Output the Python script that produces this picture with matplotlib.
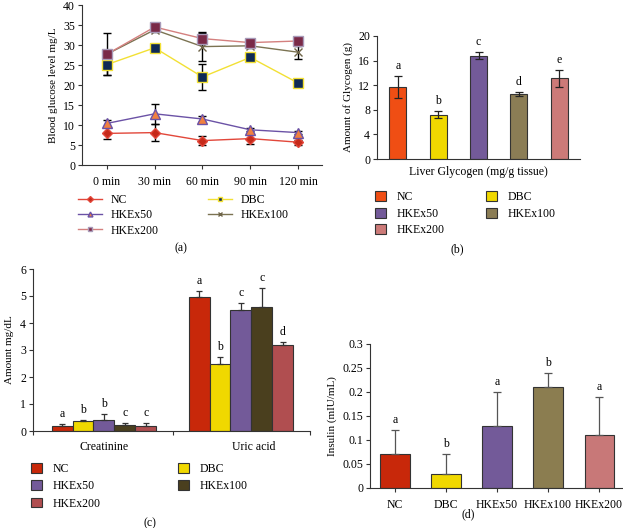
import matplotlib
matplotlib.use("Agg")
import matplotlib.pyplot as plt
import numpy as np
from matplotlib.lines import Line2D
from matplotlib.patches import Patch

W, H = 623, 528
plt.rcParams['font.family'] = ['Liberation Serif', 'DejaVu Serif']
plt.rcParams['font.size'] = 8
plt.rcParams['xtick.labelsize'] = 8.5
plt.rcParams['ytick.labelsize'] = 8.5

groups = ["NC", "DBC", "HKEx50", "HKEx100", "HKEx200"]

# (a) blood glucose
times = ["0 min", "30 min", "60 min", "90 min", "120 min"]
glu_nc = [7.9, 8.1, 6.1, 6.6, 5.7]
glu_nc_err = [1.5, 2.2, 1.1, 1.3, 0.6]
glu_dbc = [25.1, 29.3, 22.0, 26.9, 20.5]
glu_dbc_err = [2.5, 0.5, 3.3, 1.0, 0.3]
glu_50 = [10.4, 12.8, 11.5, 8.8, 8.1]
glu_50_err = [0.8, 2.5, 0.7, 0.4, 0.3]
glu_100 = [27.7, 33.8, 29.6, 29.8, 28.2]
glu_100_err = [5.2, 0.5, 3.6, 0.5, 1.6]
glu_200 = [27.7, 34.5, 31.6, 30.6, 31.0]
glu_200_err = [0.5, 0.5, 1.3, 0.5, 0.8]

# (b) liver glycogen
glyco = [11.7, 7.2, 16.8, 10.6, 13.1]
glyco_err = [1.8, 0.6, 0.6, 0.3, 1.4]
glyco_letters = ["a", "b", "c", "d", "e"]

# (c) creatinine / uric acid
renal_cats = ["Creatinine", "Uric acid"]
renal_nc = [0.20, 4.97]
renal_nc_err = [0.05, 0.20]
renal_dbc = [0.38, 2.50]
renal_dbc_err = [0.02, 0.23]
renal_50 = [0.42, 4.50]
renal_50_err = [0.22, 0.25]
renal_100 = [0.22, 4.60]
renal_100_err = [0.07, 0.70]
renal_200 = [0.20, 3.20]
renal_200_err = [0.08, 0.10]
renal_letters = [["a", "a"], ["b", "b"], ["b", "c"], ["c", "c"], ["c", "d"]]

# (d) insulin
insulin = [0.07, 0.03, 0.13, 0.21, 0.11]
insulin_err = [0.05, 0.04, 0.07, 0.03, 0.08]
insulin_letters = ["a", "b", "a", "b", "a"]

fig = plt.figure(figsize=(W / 100, H / 100), dpi=100)


def rect(l, r, t, b):
    return [l / W, 1 - b / H, (r - l) / W, (b - t) / H]


def fpos(x, y):
    return (x / W, 1 - y / H)


def style(ax):
    for s in ("top", "right"):
        ax.spines[s].set_visible(False)
    for s in ("left", "bottom"):
        ax.spines[s].set_linewidth(0.8)
        ax.spines[s].set_color("#333333")
    ax.tick_params(direction="out", length=3, width=0.8, color="#333333", pad=2)


# ---------- (a)
axa = fig.add_axes(rect(82, 322, 5, 165))
style(axa)
x = np.arange(len(times))
ekw = dict(ecolor="black", elinewidth=1.0, capsize=3, capthick=1.0)
axa.errorbar(x, glu_nc, yerr=glu_nc_err, color="#e2473a", lw=1.0, marker="D", ms=5,
             mfc="#c62a1a", mec="#e2473a", **ekw)
axa.errorbar(x, glu_50, yerr=glu_50_err, color="#6b52a6", lw=1.0, marker="^", ms=7,
             mfc="#f08040", mec="#6b52a6", **ekw)
axa.errorbar(x, glu_dbc, yerr=glu_dbc_err, color="#f2e034", lw=1.0, marker="s", ms=7,
             mfc="#0f2a55", mec="#f2e034", **ekw)
axa.errorbar(x, glu_100, yerr=glu_100_err, color="#7b7352", lw=1.0, marker="x", ms=6,
             mec="#6e6448", mew=1.0, **ekw)
axa.errorbar(x, glu_200, yerr=glu_200_err, color="#d4807f", lw=1.0, marker="s", ms=7,
             mfc="#7a2a48", mec="#a89ab8", **ekw)
axa.plot(x, glu_200, ls="none", marker="x", ms=4, mec="#e05060", mew=1.0)
axa.set_xlim(-0.52, 4.5)
axa.set_ylim(0, 40)
axa.set_yticks(np.arange(0, 41, 5))
axa.set_xticks(x)
axa.set_xticklabels(times)
axa.tick_params(axis="x", pad=5)
axa.set_ylabel("Blood glucose level mg/L", labelpad=4)

hA = [
    Line2D([], [], color="#e2473a", marker="D", ms=3, mfc="#c62a1a", mec="#e2473a", lw=1.0),
    Line2D([], [], color="#6b52a6", marker="^", ms=3.5, mfc="#f08040", mec="#6b52a6", lw=1.0),
    Line2D([], [], color="#d4807f", marker="s", ms=3.5, mfc="#7a2a48", mec="#a89ab8", lw=1.0),
    Line2D([], [], color="#f2e034", marker="s", ms=3.5, mfc="#0f2a55", mec="#f2e034", lw=1.0),
    Line2D([], [], color="#7b7352", marker="x", ms=3.5, mec="#6e6448", lw=1.0),
]
legkw = dict(loc="upper left", frameon=False, handlelength=2.0, handletextpad=0.8,
             labelspacing=0.28, borderpad=0, borderaxespad=0, fontsize=8.5)
fig.legend(hA[:3], ["NC", "HKEx50", "HKEx200"], bbox_to_anchor=fpos(78, 194), **legkw)
fig.legend(hA[3:], ["DBC", "HKEx100"], bbox_to_anchor=fpos(208, 194), **legkw)
fig.text(*fpos(181, 248), "(a)", ha="center", va="center", fontsize=8.5)

# ---------- (b)
cols_b = ["#f04e14", "#f0d800", "#735a99", "#8b7d55", "#cc7a78"]
axb = fig.add_axes(rect(377, 580, 36, 159))
style(axb)
xb = np.arange(len(groups))
axb.bar(xb, glyco, width=0.42, color=cols_b, edgecolor="#333333", linewidth=0.8)
axb.errorbar(xb, glyco, yerr=glyco_err, fmt="none", ecolor="#222222", elinewidth=0.9,
             capsize=3, capthick=0.9)
for xi, v, e, t in zip(xb, glyco, glyco_err, glyco_letters):
    axb.annotate(t, (xi, v + e), xytext=(0, 3), textcoords="offset points",
                 ha="center", va="bottom", fontsize=8.5)
axb.set_xlim(-0.52, 4.52)
axb.set_ylim(0, 20)
axb.set_yticks(np.arange(0, 21, 4))
axb.set_xticks([])
axb.set_xlabel("Liver Glycogen (mg/g tissue)", labelpad=5, fontsize=8.5)
axb.set_ylabel("Amount of Glycogen (g)", labelpad=4)

legkw2 = dict(loc="upper left", frameon=False, handlelength=0.9, handleheight=0.9,
              handletextpad=0.9, labelspacing=0.4, borderpad=0, borderaxespad=0, fontsize=8.5)
hB = [Patch(facecolor=c, edgecolor="#333333", linewidth=0.8) for c in cols_b]
fig.legend([hB[0], hB[2], hB[4]], ["NC", "HKEx50", "HKEx200"],
           bbox_to_anchor=fpos(375, 191), **legkw2)
fig.legend([hB[1], hB[3]], ["DBC", "HKEx100"], bbox_to_anchor=fpos(486, 191), **legkw2)
fig.text(*fpos(457, 249), "(b)", ha="center", va="center", fontsize=8.5)

# ---------- (c)
cols_c = ["#c8280a", "#f0d800", "#735a99", "#4a3f1e", "#b04e50"]
axc = fig.add_axes(rect(33, 310, 269, 431))
style(axc)
xc = np.arange(len(renal_cats))
bw = 0.153
series_c = [renal_nc, renal_dbc, renal_50, renal_100, renal_200]
errs_c = [renal_nc_err, renal_dbc_err, renal_50_err, renal_100_err, renal_200_err]
for i, (vals, errs, col) in enumerate(zip(series_c, errs_c, cols_c)):
    pos = xc + (i - 2) * bw
    axc.bar(pos, vals, width=bw, color=col, edgecolor="#333333", linewidth=0.8)
    axc.errorbar(pos, vals, yerr=[np.zeros(len(errs)), errs], fmt="none",
                 ecolor="#333333", elinewidth=0.9, capsize=2.5, capthick=0.9)
    for j in range(len(vals)):
        axc.annotate(renal_letters[i][j], (pos[j], vals[j] + errs[j]), xytext=(0, 3),
                     textcoords="offset points", ha="center", va="bottom", fontsize=8.5)
axc.set_xlim(-0.518, 1.504)
axc.set_ylim(0, 6)
axc.set_yticks(np.arange(0, 7, 1))
axc.set_xticks([-0.518, 0.504, 1.504])
axc.set_xticklabels([])
axc.text(0.0, -0.38, renal_cats[0], ha="center", va="top", fontsize=8.5)
axc.text(1.09, -0.38, renal_cats[1], ha="center", va="top", fontsize=8.5)
axc.set_ylabel("Amount mg/dL", labelpad=4)

hC = [Patch(facecolor=c, edgecolor="#333333", linewidth=0.8) for c in cols_c]
legkw3 = dict(legkw2)
legkw3["labelspacing"] = 0.45
fig.legend([hC[0], hC[2], hC[4]], ["NC", "HKEx50", "HKEx200"],
           bbox_to_anchor=fpos(31, 463), **legkw3)
fig.legend([hC[1], hC[3]], ["DBC", "HKEx100"], bbox_to_anchor=fpos(178, 463), **legkw3)
fig.text(*fpos(150, 523), "(c)", ha="center", va="center", fontsize=8.5)

# ---------- (d)
cols_d = ["#c8280a", "#f0d800", "#735a99", "#8b7d50", "#c87878"]
axd = fig.add_axes(rect(370, 622, 344, 488))
style(axd)
xd = np.arange(len(groups))
axd.bar(xd, insulin, width=0.57, color=cols_d, edgecolor="#333333", linewidth=0.8)
axd.errorbar(xd, insulin, yerr=[np.zeros(len(insulin)), insulin_err], fmt="none",
             ecolor="#555555", elinewidth=0.9, capsize=3, capthick=0.9)
for xi, v, e, t in zip(xd, insulin, insulin_err, insulin_letters):
    axd.annotate(t, (xi, v + e), xytext=(0, 3), textcoords="offset points",
                 ha="center", va="bottom", fontsize=8.5)
axd.set_xlim(-0.49, 4.45)
axd.set_ylim(0, 0.3)
axd.set_yticks([0, 0.05, 0.1, 0.15, 0.2, 0.25, 0.3])
axd.set_yticklabels(["0", "0.05", "0.1", "0.15", "0.2", "0.25", "0.3"])
axd.set_xticks(xd)
axd.set_xticklabels(groups)
axd.tick_params(axis="x", pad=5)
axd.set_ylabel("Insulin (mIU/mL)", labelpad=4)
fig.text(*fpos(468, 514), "(d)", ha="center", va="center", fontsize=8.5)

fig.savefig("out.png", dpi=100)
